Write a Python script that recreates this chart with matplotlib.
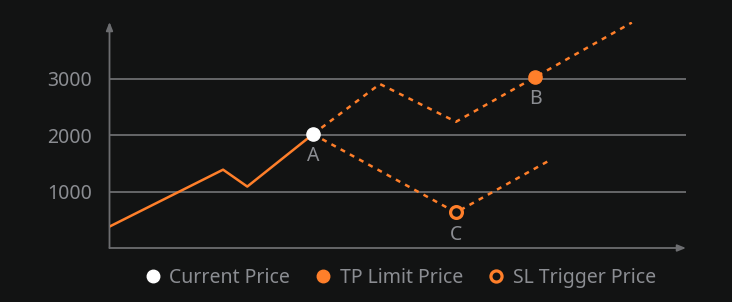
import matplotlib.pyplot as plt
from matplotlib.lines import Line2D

# ===== data =====
hist_x = [0, 19.7, 23.9, 35.3]
hist_y = [380, 1390, 1090, 2020]

tp_x = [35.3, 46.9, 60.1, 73.8, 90.6]
tp_y = [2020, 2910, 2240, 3030, 4000]

sl_x = [35.3, 60.1, 76.6]
sl_y = [2020, 630, 1570]

point_a = (35.3, 2020)
point_b = (73.8, 3030)
point_c = (60.1, 630)

yticks = [1000, 2000, 3000]

# ===== style =====
bg = "#121313"
orange = "#ff7f2a"
grid_c = "#6c6d70"
text_c = "#8b8d92"
plt.rcParams["font.family"] = ["Noto Sans", "DejaVu Sans"]

fig = plt.figure(figsize=(7.32, 3.02), dpi=100, facecolor=bg)
ax = fig.add_axes([109.5 / 732, 1 - 248 / 302, (686 - 109.5) / 732, (248 - 22) / 302])
ax.set_facecolor(bg)
ax.set_xlim(0, 100)
ax.set_ylim(0, 4010)

for s in ax.spines.values():
    s.set_visible(False)

for v in yticks:
    ax.axhline(v, color=grid_c, lw=1.3, zorder=1)
ax.set_yticks(yticks)
ax.set_yticklabels([str(v) for v in yticks])
ax.tick_params(axis="y", length=0, pad=12.5, labelsize=14, labelcolor=text_c)
ax.set_xticks([])

# axis arrows
ax.annotate("", xy=(1.0, 0), xytext=(0, 0), xycoords="axes fraction",
            arrowprops=dict(arrowstyle="-|>,head_length=0.5,head_width=0.2",
                            color=grid_c, lw=1.3, shrinkA=0, shrinkB=0))
ax.annotate("", xy=(0, 1.0), xytext=(0, 0), xycoords="axes fraction",
            arrowprops=dict(arrowstyle="-|>,head_length=0.5,head_width=0.2",
                            color=grid_c, lw=1.3, shrinkA=0, shrinkB=0))

# lines
ax.plot(hist_x, hist_y, color=orange, lw=1.8, zorder=3, solid_capstyle="round")
ax.plot(tp_x, tp_y, color=orange, lw=1.8, ls=(0, (2, 2.2)), zorder=3)
ax.plot(sl_x, sl_y, color=orange, lw=1.8, ls=(0, (2, 2.2)), zorder=3)

# markers
ax.plot(*point_a, "o", color="white", ms=9.5, zorder=5)
ax.plot(*point_b, "o", color=orange, ms=9.5, zorder=5)
ax.plot(*point_c, "o", mfc=bg, mec=orange, mew=2.3, ms=8.5, zorder=5)

for lab, (px, py) in zip(["A", "B", "C"], [point_a, point_b, point_c]):
    ax.annotate(lab, (px, py), xytext=(0, -16), textcoords="offset points",
                ha="center", va="center", color=text_c, fontsize=14)

handles = [
    Line2D([], [], ls="", marker="o", color="white", ms=9),
    Line2D([], [], ls="", marker="o", color=orange, ms=9),
    Line2D([], [], ls="", marker="o", mfc=bg, mec=orange, mew=2.3, ms=8),
]
fig.legend(handles, ["Current Price", "TP Limit Price", "SL Trigger Price"],
           loc="center", bbox_to_anchor=(400 / 732, 1 - 278 / 302), ncol=3,
           frameon=False, fontsize=14, labelcolor=text_c, handletextpad=0.4,
           columnspacing=1.25, handlelength=0.9)

fig.savefig("out.png", dpi=100, facecolor=bg)
